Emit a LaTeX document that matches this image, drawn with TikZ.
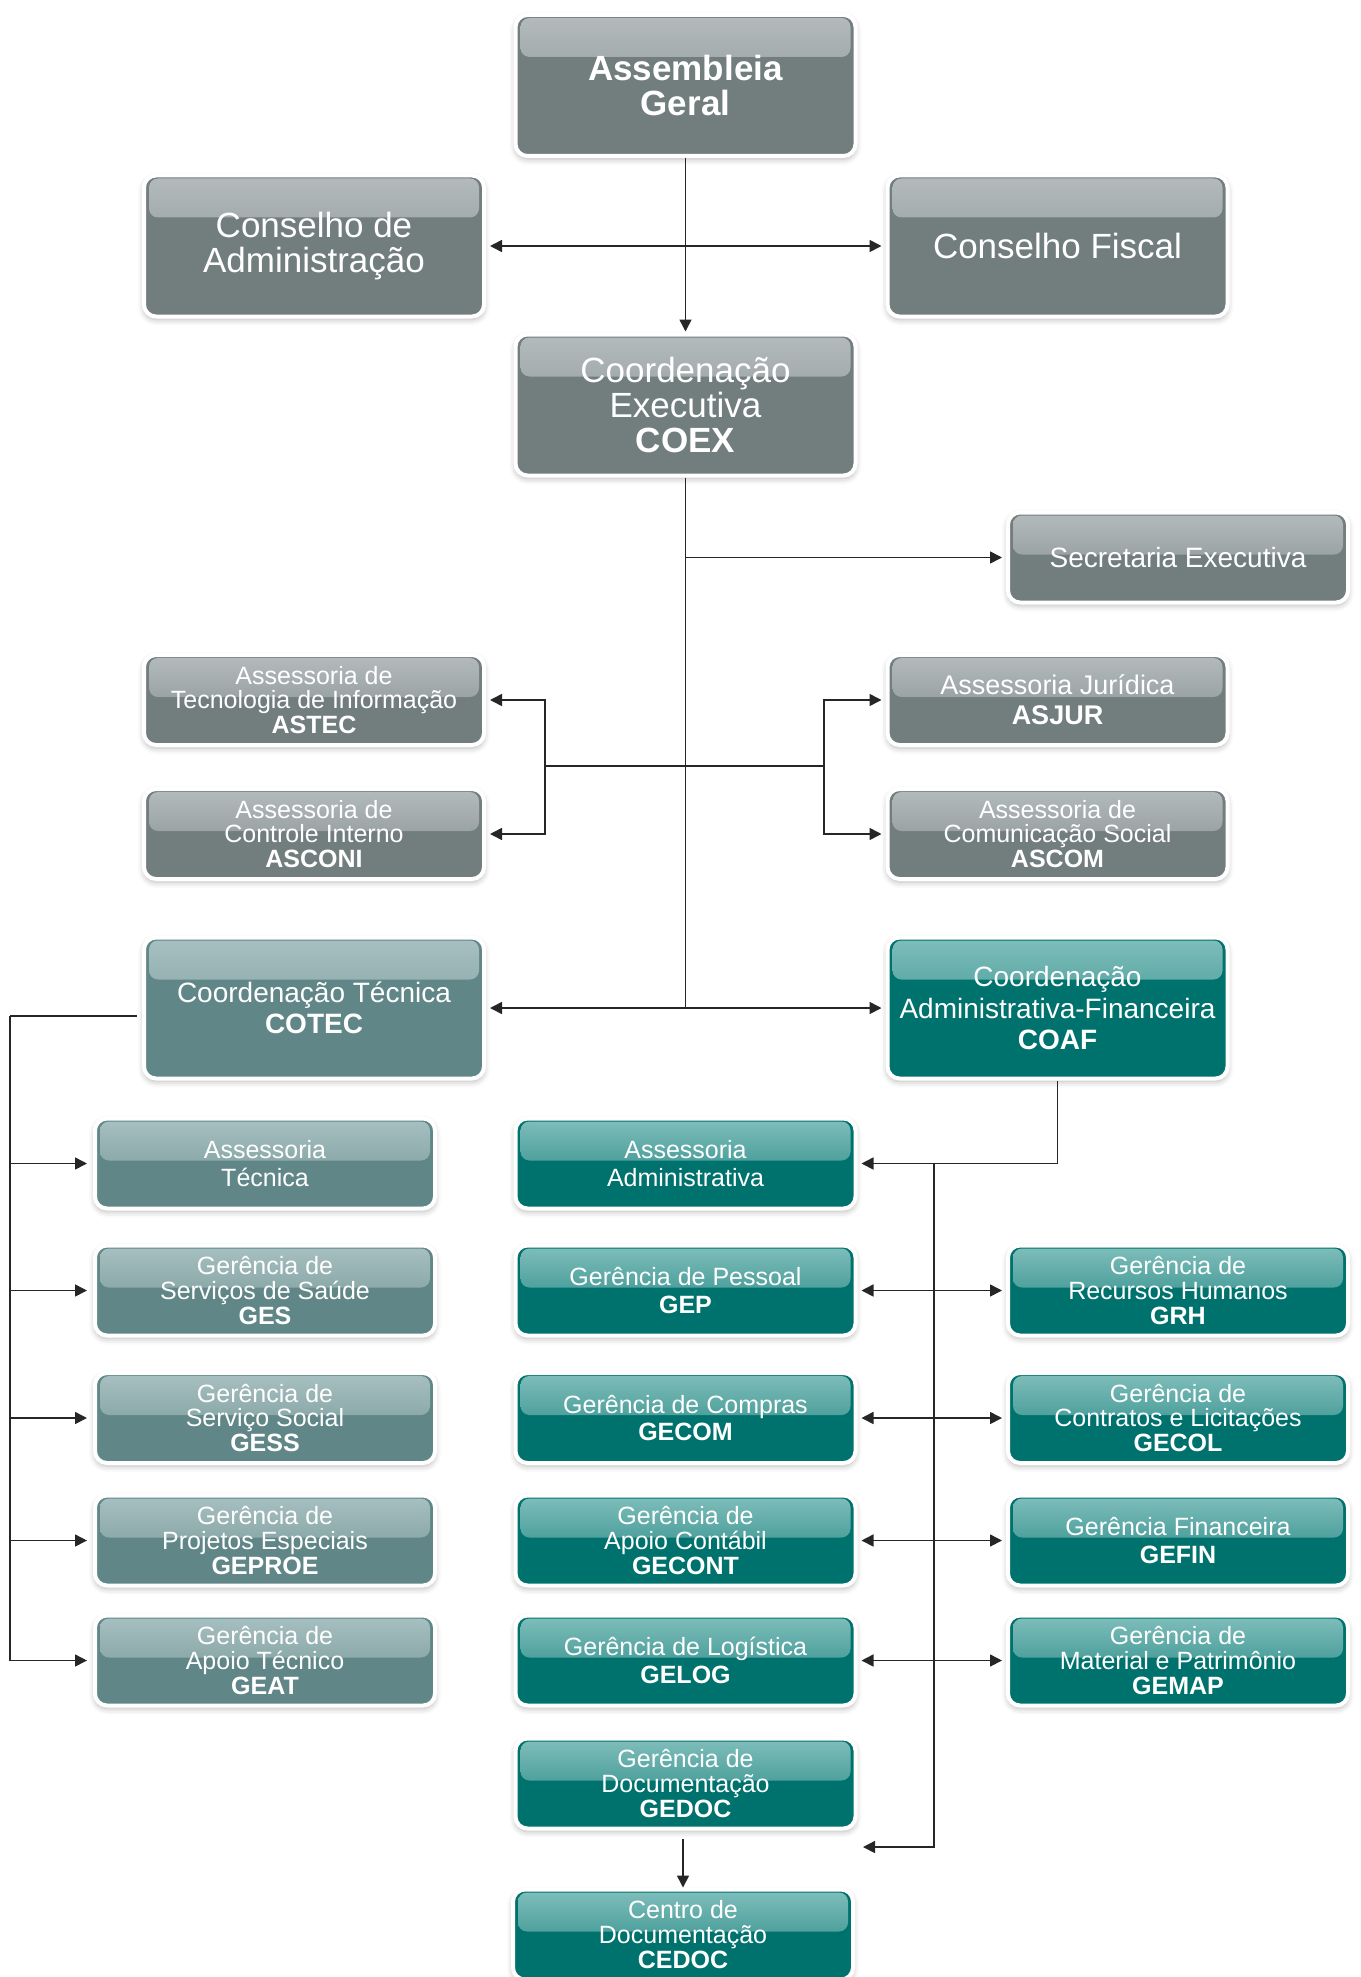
\documentclass[tikz,border=0pt]{standalone}
\usepackage{fontspec}
\setmainfont{Liberation Sans}
\usetikzlibrary{arrows.meta,shadows.blur}
\definecolor{greybox}{RGB}{114,125,126}
\definecolor{greyhi}{RGB}{180,187,188}
\definecolor{slatebox}{RGB}{96,134,135}
\definecolor{slatehi}{RGB}{168,192,193}
\definecolor{tealbox}{RGB}{0,114,110}
\definecolor{tealhi}{RGB}{128,190,187}
\newcommand{\boxshine}[2]{\fill[rounded corners=9pt,top color=#1,bottom color=#2!82!#1] ([xshift=5pt,yshift=-3pt]path picture bounding box.north west) rectangle ([xshift=-5pt,yshift=-42pt]path picture bounding box.north east);}

\begin{document}
\begin{tikzpicture}[x=1pt,y=-1pt,
  unit/.style={rounded corners=12pt,draw=white,line width=4pt,minimum width=340pt,inner sep=2pt,align=center,text=white,
    blur shadow={shadow xshift=0pt,shadow yshift=-3pt,shadow blur radius=6pt,shadow opacity=30}},
  big/.style={unit,minimum height=141pt,font=\fontsize{35}{35}\selectfont},
  mid/.style={unit,minimum height=141pt,font=\fontsize{28}{31.5}\selectfont},
  small/.style={unit,minimum height=90pt,font=\fontsize{25}{27.5}\selectfont},
  tight/.style={small,font=\fontsize{25}{24.6}\selectfont},
  gfill/.style={fill=greybox,path picture={\boxshine{greyhi}{greybox}}},
  sfill/.style={fill=slatebox,path picture={\boxshine{slatehi}{slatebox}}},
  tfill/.style={fill=tealbox,path picture={\boxshine{tealhi}{tealbox}}},
  link/.style={line width=1.6pt,draw=black!85},
  arr/.style={-{Triangle[length=12pt,width=12pt]},shorten >=4pt},
  dbl/.style={{Triangle[length=12pt,width=12pt]}-{Triangle[length=12pt,width=12pt]},shorten >=4pt,shorten <=4pt}]
  \useasboundingbox (0,0) rectangle (1360,1977);

  \node[big,gfill] (ag) at (685.5,85.5) {\textbf{Assembleia}\\\textbf{Geral}};
  \node[big,gfill] (ca) at (314,246) {Conselho de\\Administração};
  \node[big,gfill] (cf) at (1057.5,246) {Conselho Fiscal};
  \node[big,gfill] (coex) at (685.5,405) {Coordenação\\Executiva\\\textbf{COEX}};
  \node[small,gfill,font=\fontsize{28}{31}\selectfont] (se) at (1178,557.5) {Secretaria Executiva};
  \node[tight,gfill] (astec) at (314,700) {Assessoria de\\Tecnologia de Informação\\\textbf{ASTEC}};
  \node[small,gfill,font=\fontsize{27}{30}\selectfont] (asjur) at (1057.5,700) {Assessoria Jurídica\\\textbf{ASJUR}};
  \node[tight,gfill] (asconi) at (314,834) {Assessoria de\\Controle Interno\\\textbf{ASCONI}};
  \node[tight,gfill] (ascom) at (1057.5,834) {Assessoria de\\Comunicação Social\\\textbf{ASCOM}};
  \node[mid,sfill] (cotec) at (314,1008) {Coordenação Técnica\\\textbf{COTEC}};
  \node[mid,tfill] (coaf) at (1057.5,1008) {Coordenação\\Administrativa-Financeira\\\textbf{COAF}};

  \node[small,sfill] (at) at (265,1163.5) {Assessoria\\Técnica};
  \node[tight,sfill] (ges) at (265,1290.5) {Gerência de\\Serviços de Saúde\\\textbf{GES}};
  \node[tight,sfill] (gess) at (265,1418) {Gerência de\\Serviço Social\\\textbf{GESS}};
  \node[tight,sfill] (geproe) at (265,1540.5) {Gerência de\\Projetos Especiais\\\textbf{GEPROE}};
  \node[tight,sfill] (geat) at (265,1660.5) {Gerência de\\Apoio Técnico\\\textbf{GEAT}};

  \node[small,tfill] (aa) at (685.5,1163.5) {Assessoria\\Administrativa};
  \node[small,tfill] (gep) at (685.5,1290.5) {Gerência de Pessoal\\\textbf{GEP}};
  \node[small,tfill] (gecom) at (685.5,1418) {Gerência de Compras\\\textbf{GECOM}};
  \node[tight,tfill] (gecont) at (685.5,1540.5) {Gerência de\\Apoio Contábil\\\textbf{GECONT}};
  \node[small,tfill] (gelog) at (685.5,1660.5) {Gerência de Logística\\\textbf{GELOG}};
  \node[tight,tfill] (gedoc) at (685.5,1783.5) {Gerência de\\Documentação\\\textbf{GEDOC}};
  \node[tight,tfill] (cedoc) at (683,1934.5) {Centro de\\Documentação\\\textbf{CEDOC}};

  \node[tight,tfill] (grh) at (1178,1290.5) {Gerência de\\Recursos Humanos\\\textbf{GRH}};
  \node[tight,tfill] (gecol) at (1178,1418) {Gerência de\\Contratos e Licitações\\\textbf{GECOL}};
  \node[small,tfill] (gefin) at (1178,1540.5) {Gerência Financeira\\\textbf{GEFIN}};
  \node[tight,tfill] (gemap) at (1178,1660.5) {Gerência de\\Material e Patrimônio\\\textbf{GEMAP}};

  \coordinate (agjoin) at (ag.south |- ca.east);
  \coordinate (trunk) at (coex.south |- cotec.east);
  \coordinate (asl) at (545,766);
  \coordinate (asr) at (824,766);
  \coordinate (lbus) at (10,1016);
  \coordinate (rbus) at (934,1163.5);
  \coordinate (docend) at (863,1847);

  \draw[link,arr,shorten >=1pt] (ag) -- (coex);
  \draw[link,arr] (agjoin) -- (ca.east);
  \draw[link,arr] (agjoin) -- (cf.west);
  \draw[link] (coex) -- (trunk);
  \draw[link,arr] (coex.south |- se.west) -- (se.west);
  \draw[link] (asl) -- (asr);
  \draw[link,arr] (asl) |- (astec.east);
  \draw[link,arr] (asl) |- (asconi.east);
  \draw[link,arr] (asr) |- (asjur.west);
  \draw[link,arr] (asr) |- (ascom.west);
  \draw[link,dbl] (cotec.east) -- (coaf.west);

  \draw[link,shorten <=5pt] ([yshift=-8pt]cotec.west) -- (lbus);
  \foreach \n in {at,ges,gess,geproe,geat}
    \draw[link,arr,shorten >=6pt] (lbus) |- (\n.west);

  \draw[link] (coaf) |- (rbus);
  \draw[link,arr] (rbus) -- (aa.east);
  \draw[link,arr,shorten >=0pt] (rbus) |- (docend);
  \foreach \l/\r in {gep/grh,gecom/gecol,gecont/gefin,gelog/gemap}
    \draw[link,dbl] (\l.east) -- (\r.west);
  \draw[link,arr,shorten <=8pt,shorten >=0pt] (gedoc.south -| cedoc) -- (cedoc.north);
\end{tikzpicture}
\end{document}
